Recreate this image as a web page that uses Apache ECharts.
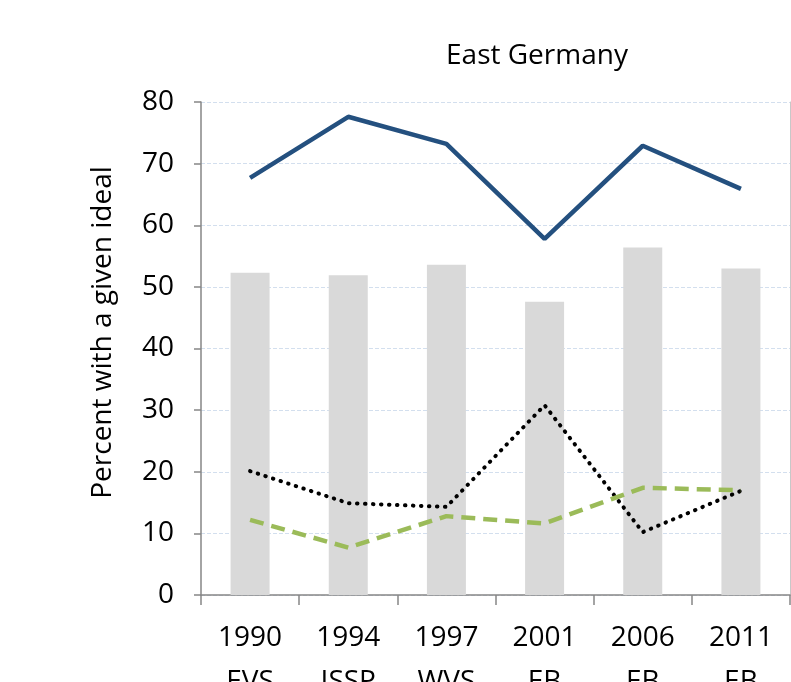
<!DOCTYPE html>
<html>
<head>
<meta charset="utf-8">
<script src="https://cdn.jsdelivr.net/npm/echarts@6/dist/echarts.min.js"></script>
<style>html,body{margin:0;padding:0;background:#fff}#c{width:791px;height:682px}</style>
</head>
<body>
<div id="c"></div>
<script>
const categories = ["1990\nEVS", "1994\nISSP", "1997\nWVS", "2001\nEB", "2006\nEB", "2011\nEB"];
const barValues = [52.3, 51.9, 53.6, 47.6, 56.4, 53.0];
const blueValues = [67.7, 77.6, 73.2, 57.8, 72.9, 65.9];
const dottedValues = [20.1, 14.9, 14.3, 30.8, 10.2, 16.9];
const greenValues = [12.2, 7.7, 12.8, 11.6, 17.4, 17.0];
const yTicks = [0, 10, 20, 30, 40, 50, 60, 70, 80];

const FONT = "Open Sans";
const chart = echarts.init(document.getElementById('c'), null, {renderer: 'canvas'});
chart.setOption({
  animation: false,
  backgroundColor: '#ffffff',
  title: {
    text: 'East Germany',
    left: 532, top: 37,
    textAlign: 'center',
    textStyle: {fontFamily: FONT, fontSize: 28, fontWeight: 'normal', color: '#000'}
  },
  grid: {left: 201, right: 1, top: 102, bottom: 87, containLabel: false, outerBoundsMode: 'none'},
  xAxis: {
    type: 'category',
    data: categories,
    axisLine: {lineStyle: {color: '#868686', width: 1.5}},
    axisTick: {show: true, length: 10, alignWithLabel: false, lineStyle: {color: '#868686', width: 1.5}},
    axisLabel: {fontFamily: FONT, fontSize: 28, color: '#000', margin: 21, lineHeight: 44, interval: 0}
  },
  yAxis: [{
    type: 'value',
    min: 0, max: 80, interval: 10,
    name: 'Percent with a given ideal',
    nameLocation: 'middle',
    nameGap: 84,
    nameTextStyle: {fontFamily: FONT, fontSize: 28, color: '#000', padding: [0, 0, 0, 32]},
    axisLine: {show: true, lineStyle: {color: '#868686', width: 1.5}},
    axisTick: {show: true, length: 7, lineStyle: {color: '#868686', width: 1.5}},
    axisLabel: {fontFamily: FONT, fontSize: 28, color: '#000', margin: 27,
      formatter: v => yTicks.includes(v) ? String(v) : ''},
    splitLine: {show: true, lineStyle: {color: '#d3dfee', type: 'dashed', width: 1}}
  }, {
    type: 'value',
    position: 'right',
    min: 0, max: 80, interval: 10,
    axisLine: {show: true, lineStyle: {color: '#c8c8c8', width: 1}},
    axisTick: {show: false},
    axisLabel: {show: false},
    splitLine: {show: false}
  }],
  series: [
    {type: 'bar', data: barValues, barWidth: 39, itemStyle: {color: '#d9d9d9'}, z: 1},
    {type: 'line', data: blueValues, symbol: 'none', lineStyle: {color: '#24507f', width: 4.5}, z: 3},
    {type: 'line', data: dottedValues, symbol: 'none', lineStyle: {color: '#000000', width: 4, type: [0.5, 7.5], cap: 'round'}, z: 3},
    {type: 'line', data: greenValues, symbol: 'none', lineStyle: {color: '#9bbb59', width: 4.5, type: [14, 8]}, z: 3}
  ]
});
</script>
</body>
</html>
